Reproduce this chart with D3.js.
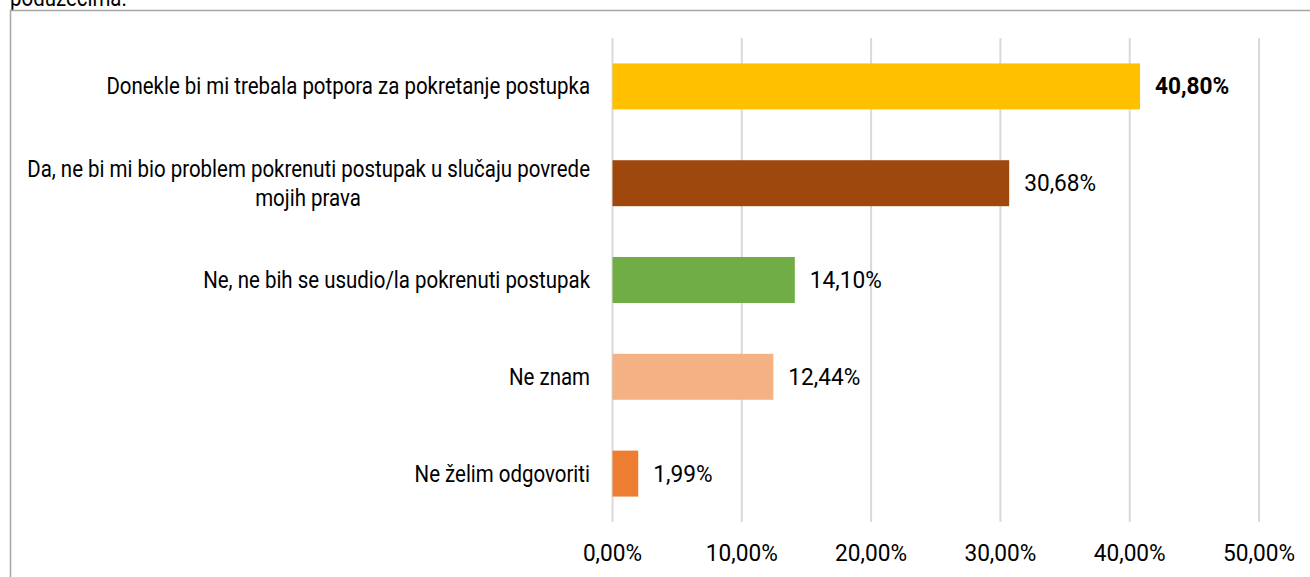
<!DOCTYPE html>
<html>
<head>
<meta charset="utf-8">
<script src="https://cdn.jsdelivr.net/npm/d3@7"></script>
<style>
  body { margin: 0; background: #fff; }
  svg { display: block; font-family: Roboto, "DejaVu Sans", sans-serif; }
</style>
</head>
<body>
<svg id="chart" width="1310" height="577"></svg>
<script>
// podaci
const categories = [
    ["Donekle bi mi trebala potpora za pokretanje postupka"],
    ["Da, ne bi mi bio problem pokrenuti postupak u slučaju povrede", "mojih prava"],
    ["Ne, ne bih se usudio/la pokrenuti postupak"],
    ["Ne znam"],
    ["Ne želim odgovoriti"]
];
const values = [40.80, 30.68, 14.10, 12.44, 1.99];
const colors = ["#FFC000", "#9E480E", "#70AD47", "#F4B183", "#ED7D31"];
const ticks = [0, 10, 20, 30, 40, 50];

const svg = d3.select('#chart');
const fs = 23;
const fmt = d => d.toFixed(2).replace('.', ',') + '%';

// uski font: mjeri se sirina teksta i suzi se prema slici
function measure(txt) {
    const p = svg.append('text').attr('font-size', fs).text(txt);
    const w = p.node().getComputedTextLength();
    p.remove();
    return w;
}
const sx = 484 / measure(categories[0][0]);
const sxNum = 72 / measure(fmt(30.68));

function label(parent, px, py, txt, anchor, bold, s) {
    return parent.append('text')
        .attr('transform', `translate(${px},${py}) scale(${s || sx},1)`)
        .attr('dy', '0.35em')
        .attr('text-anchor', anchor)
        .attr('font-size', fs)
        .attr('font-weight', bold ? 'bold' : 'normal')
        .attr('fill', '#000')
        .text(txt);
}

// tekst iznad okvira (odrezan)
label(svg, 10, -2, 'poduzećima.', 'start', false);

// okvir
svg.append('path')
    .attr('d', 'M10.5,577 V10.5 H1310')
    .attr('fill', 'none')
    .attr('stroke', '#a6a6a6')
    .attr('stroke-width', 1.5);

const x = d3.scaleLinear().domain([0, 50]).range([612.5, 1259]);
const y = d3.scaleBand().domain(d3.range(values.length)).range([38, 522]).paddingInner(0.525).paddingOuter(0.2625);

// mreža
svg.append('g')
    .selectAll('line')
    .data(ticks)
    .join('line')
    .attr('x1', d => x(d))
    .attr('x2', d => x(d))
    .attr('y1', 38)
    .attr('y2', 522)
    .attr('stroke', '#d9d9d9')
    .attr('stroke-width', 2);

// stupci
svg.append('g')
    .selectAll('rect')
    .data(values)
    .join('rect')
    .attr('x', x(0))
    .attr('y', (d, i) => y(i))
    .attr('width', d => x(d) - x(0))
    .attr('height', y.bandwidth())
    .attr('fill', (d, i) => colors[i]);

// oznake vrijednosti
const gv = svg.append('g');
values.forEach((d, i) => {
    label(gv, x(d) + 15, y(i) + y.bandwidth() / 2, fmt(d), 'start', i === 0, sxNum);
});

// kategorije
const gc = svg.append('g');
categories.forEach((lines, i) => {
    const cy = y(i) + y.bandwidth() / 2;
    const lh = 29;
    lines.forEach((ln, k) => {
        const ly = cy + (k - (lines.length - 1) / 2) * lh;
        if (lines.length > 1 && k > 0) label(gc, 308, ly, ln, 'middle', false);
        else label(gc, 590, ly, ln, 'end', false);
    });
});

// os x
const gx = svg.append('g');
ticks.forEach(t => {
    label(gx, x(t), 553, fmt(t), 'middle', false, sxNum);
});
</script>
</body>
</html>
